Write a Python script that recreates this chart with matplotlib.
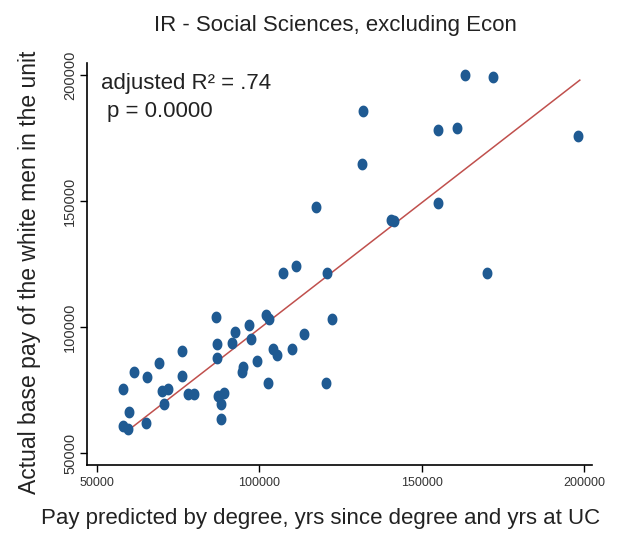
import numpy as np
import matplotlib
matplotlib.use('Agg')
import matplotlib.pyplot as plt
from matplotlib.path import Path

plt.rcParams['font.family'] = ['Liberation Sans', 'DejaVu Sans']

# predicted pay (x) and actual pay (y)
pred = [107300, 111230, 120860, 86620, 102000, 103015, 96860, 122215, 92460, 113785,
        86830, 91630, 97290, 76060, 87015, 104245, 105290, 109910, 99140, 68985,
        61480, 95015, 94710, 65475, 76060, 57910, 69910, 71940, 78090, 79845,
        102520, 120460, 87320, 89080, 88060, 70710, 59755, 64985, 88155, 57910,
        59630, 163230, 171940, 131755, 155015, 160675, 198090, 131445, 155015, 140600,
        141300, 169905, 117385]
actual = [121300, 124210, 121300, 104090, 104760, 103060, 100790, 103175, 98135, 97220,
          93255, 93530, 95120, 90600, 87580, 91270, 88890, 91270, 86630, 85830,
          82140, 84010, 82260, 80040, 80675, 75515, 74720, 75280, 73295, 73295,
          77660, 77660, 72620, 73930, 69445, 69445, 66270, 62025, 63375, 60715,
          59405, 200000, 199330, 185835, 178180, 178850, 175915, 164685, 149090, 142300,
          141900, 121310, 147740]

# fitted line end points
fit_x = [59100, 198600]
fit_y = [58500, 198000]

xticks = [50000, 100000, 150000, 200000]
yticks = [50000, 100000, 150000, 200000]

# slightly tall ellipse marker
t = np.linspace(0, 2 * np.pi, 40)
ell = Path(np.column_stack([0.42 * np.cos(t), 0.5 * np.sin(t)]))

fig = plt.figure(figsize=(6.21, 5.33), dpi=100)
ax = fig.add_axes([0.140, 0.1276, 0.813, 0.754])

ax.plot(fit_x, fit_y, color='#c0504d', lw=1.1, zorder=2)
ax.plot(pred, actual, ls='none', marker=ell, color='#1f5a92', ms=8.5, mec='none', zorder=3)

ax.set_xlim(46900, 202300)
ax.set_ylim(45240, 204760)
ax.set_xticks(xticks)
ax.set_yticks(yticks)
ax.set_xticklabels([str(v) for v in xticks], fontsize=9, color='#333333')
ax.set_yticklabels([str(v) for v in yticks], fontsize=10.5, color='#333333', rotation=90, va='center')
ax.tick_params(direction='out', length=5, width=1)
ax.tick_params(axis='y', pad=2)
for s in ['top', 'right']:
    ax.spines[s].set_visible(False)
for s in ['left', 'bottom']:
    ax.spines[s].set_linewidth(1.2)

ax.text(0.028, 0.975, 'adjusted R² = .74', transform=ax.transAxes, fontsize=16,
        va='top', ha='left', color='#222222')
ax.text(0.04, 0.905, 'p = 0.0000', transform=ax.transAxes, fontsize=16,
        va='top', ha='left', color='#222222')

fig.text(0.54, 0.953, 'IR - Social Sciences, excluding Econ', ha='center', va='center',
         fontsize=16, color='#222222')
fig.text(0.517, 0.027, 'Pay predicted by degree, yrs since degree and yrs at UC', ha='center',
         va='center', fontsize=16, color='#222222')
fig.text(0.047, 0.49, 'Actual base pay of the white men in the unit', ha='center', va='center',
         rotation=90, fontsize=16.5, color='#222222')

fig.savefig('out.png', dpi=100)
